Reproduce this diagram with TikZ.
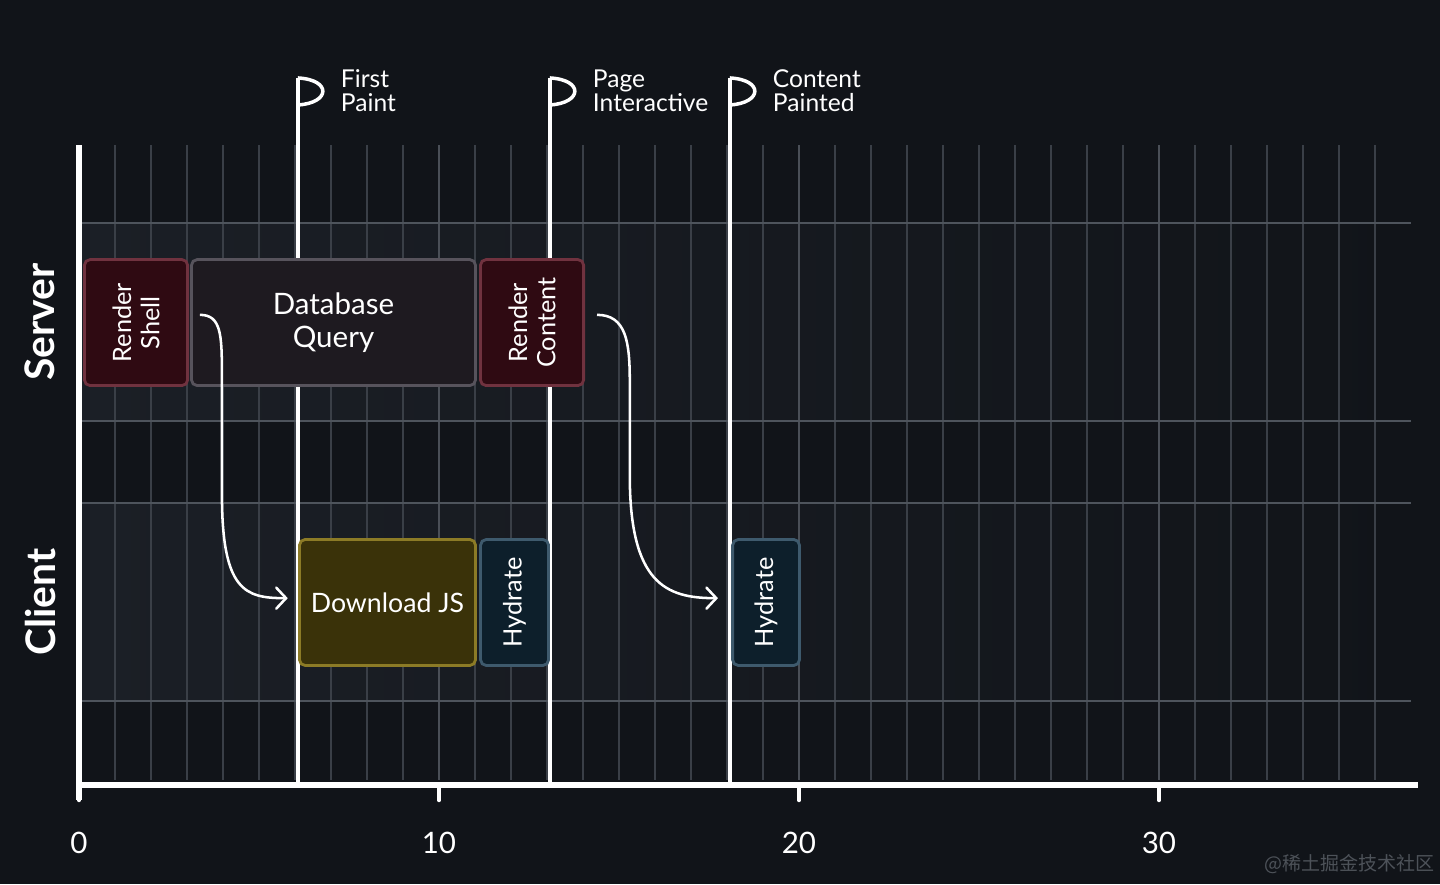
\documentclass[tikz,border=0pt]{standalone}
\usepackage{fontspec}
\setmainfont{Lato}
\newfontfamily\cjkfont{Noto Sans CJK SC}
\usepackage{tikz}
\usetikzlibrary{positioning}
\usetikzlibrary{arrows.meta}

\definecolor{bgc}{HTML}{111419}
\definecolor{lanec}{HTML}{1B1F26}
\definecolor{gridc}{HTML}{3A3F47}
\definecolor{majorc}{HTML}{4A4F57}
\definecolor{lanelinec}{HTML}{4E545C}
\definecolor{renderfill}{HTML}{2F0A12}
\definecolor{renderdraw}{HTML}{70323F}
\definecolor{queryfill}{HTML}{1E1A20}
\definecolor{querydraw}{HTML}{57535C}
\definecolor{jsfill}{HTML}{3A3209}
\definecolor{jsdraw}{HTML}{8C7B26}
\definecolor{hydfill}{HTML}{0D1F2B}
\definecolor{hyddraw}{HTML}{3E5A6D}
\definecolor{markc}{HTML}{4D5259}

\begin{document}
\begin{tikzpicture}[x=0.9cm, y=0.9cm,
    task/.style={rounded corners=4pt, line width=2pt, text=white, inner sep=0pt, align=center},
    rendertask/.style={task, fill=renderfill, draw=renderdraw, rotate=90,
        minimum width=3.15cm, minimum height=2.58cm, font=\fontsize{18}{20}\selectfont},
    querytask/.style={task, fill=queryfill, draw=querydraw,
        minimum width=7.1cm, minimum height=3.15cm, font=\fontsize{21}{24}\selectfont},
    jstask/.style={task, fill=jsfill, draw=jsdraw,
        minimum width=4.4cm, minimum height=3.15cm, font=\fontsize{19}{22}\selectfont},
    hydtask/.style={task, fill=hydfill, draw=hyddraw, rotate=90,
        minimum width=3.15cm, font=\fontsize{18}{20}\selectfont},
    lane/.style={font=\fontsize{29}{32}\selectfont\bfseries, text=white, rotate=90},
    flagtext/.style={anchor=west, align=left, text=white, font=\fontsize{17.5}{17}\selectfont},
    ticktext/.style={text=white, font=\fontsize{21}{24}\selectfont},
    pole/.style={white, line width=2.5pt},
    flow/.style={white, line width=1.8pt, -{Straight Barb[length=7pt, width=15pt, line cap=round]}}]

    % Background
    \fill[bgc] (-2.194,-2.75) rectangle (37.806,21.806);
    \useasboundingbox (-2.194,-2.75) rectangle (37.806,21.806);

    % Lanes
    \fill[left color=lanec, right color=bgc] (0,10.11) rectangle (37.2,15.61);
    \fill[left color=lanec, right color=bgc] (0,2.33) rectangle (37.2,7.83);

    % Grid
    \foreach \i in {1,...,36}
        \draw[gridc, line width=0.9pt] (\i,0.14) -- (\i,17.78);
    \foreach \i in {10,20,30}
        \draw[majorc, line width=1.6pt] (\i,0.14) -- (\i,17.78);
    \foreach \y in {2.33,7.83,10.11,15.61}
        \draw[lanelinec, line width=1.3pt] (0,\y) -- (37,\y);

    % Markers
    \foreach \x/\n in {6.08/fp, 13.08/pi, 18.08/cp} {
        \coordinate (\n top) at (\x,19.64);
        \coordinate (\n foot) at (\x,0);
        \draw[pole] (\n foot) -- (\n top);
        \draw[pole, line join=round] (\n top) .. controls ++(0.95,-0.05) and ++(0.9,0.05) .. ++(0,-0.75);
    }
    \node at (7.14,19.28) (fptext) [flagtext] {First\\Paint};
    \node at (14.14,19.28) (pitext) [flagtext] {Page\\Interactive};
    \node at (19.14,19.28) (cptext) [flagtext] {Content\\Painted};

    % Axis
    \draw[white, line width=3.6pt] (0,-0.42) -- (0,17.78);
    \draw[white, line width=3.6pt] (0,0) -- (37.19,0);
    \foreach \t in {0,10,20,30} {
        \draw[white, line width=3pt, line cap=round] (\t,0) -- (\t,-0.42);
        \node at (\t,-1.61) (tick\t) [ticktext] {\t};
    }

    % Lane labels
    \node at (-1.08,12.86) (server) [lane] {Server};
    \node at (-1.08,5.08) (client) [lane] {Client};

    % Tasks
    \node at (1.585,12.845) (shell) [rendertask] {Render\\Shell};
    \node at (7.07,12.845) (query) [querytask] {Database\\Query};
    \node at (12.585,12.845) (content) [rendertask] {Render\\Content};
    \node at (8.57,5.07) (js) [jstask] {Download JS};
    \node at (12.1,5.07) (hydA) [hydtask, minimum height=1.7cm] {Hydrate};
    \node at (19.085,5.07) (hydB) [hydtask, minimum height=1.67cm] {Hydrate};

    % Arrows
    \coordinate (shellout) at (3.36,13.06);
    \coordinate (jsin) at (5.8,5.19);
    \coordinate (contentout) at (14.39,13.06);
    \coordinate (hydin) at (17.75,5.19);
    \draw[flow] (shellout) .. controls (3.95,13.06) and (3.97,12.5) .. (3.97,11.4)
        -- (3.97,8.1) .. controls (3.97,5.4) and (4.6,5.19) .. (jsin);
    \draw[flow] (contentout) .. controls (15.2,13.06) and (15.3,12.3) .. (15.3,11.2)
        -- (15.3,8.6) .. controls (15.3,5.6) and (16.3,5.19) .. (hydin);

    % Watermark
    \node at (37.78,-2.19) (mark) [anchor=east, text=markc, font=\cjkfont\fontsize{13.5}{15}\selectfont] {@稀土掘金技术社区};

\end{tikzpicture}
\end{document}
